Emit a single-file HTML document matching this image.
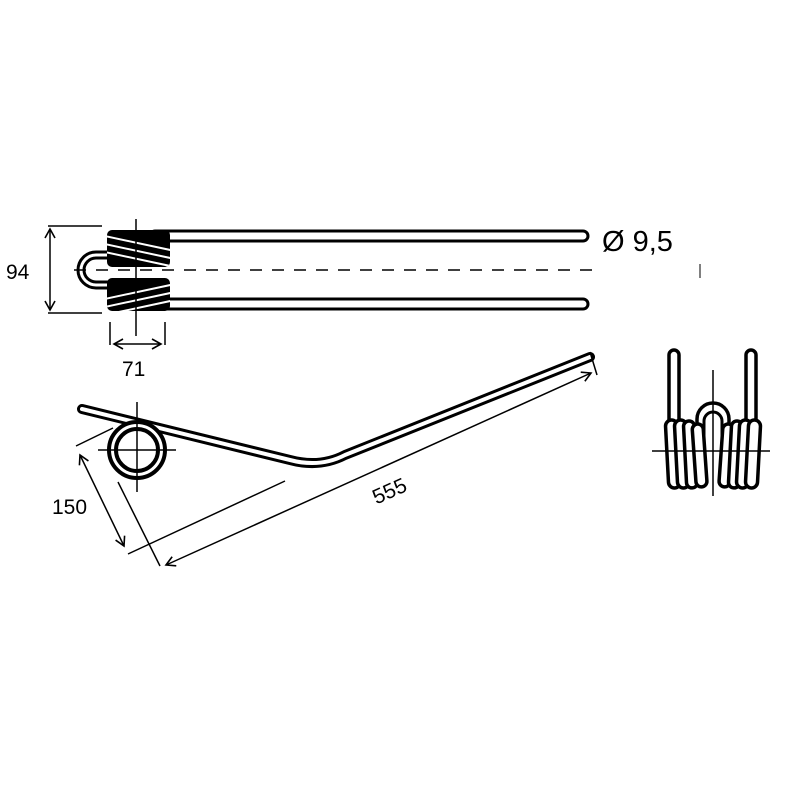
<!DOCTYPE html>
<html><head><style>body{margin:0;background:#fff}svg{display:block}</style></head><body>
<svg width="800" height="800" viewBox="0 0 800 800" xmlns="http://www.w3.org/2000/svg" font-family="Liberation Sans, sans-serif">
<defs>
<marker id="a" markerWidth="12" markerHeight="12" refX="10" refY="6" orient="auto-start-reverse" markerUnits="userSpaceOnUse"><path d="M1,1 L10,6 L1,11" fill="none" stroke="#000" stroke-width="1.6"/></marker>
<clipPath id="cu"><rect x="107" y="230" width="63" height="37" rx="5"/></clipPath>
<clipPath id="cl"><rect x="107" y="278" width="63" height="33" rx="5"/></clipPath>
</defs>
<rect width="800" height="800" fill="#fff"/>
<rect x="150" y="231" width="438" height="10" rx="5" fill="#fff" stroke="#000" stroke-width="3"/>
<rect x="150" y="299" width="438" height="10" rx="5" fill="#fff" stroke="#000" stroke-width="3"/>
<path d="M112,255 H96 A15,15 0 0 0 96,285 H112" fill="none" stroke="#000" stroke-width="9"/>
<path d="M112,255 H96 A15,15 0 0 0 96,285 H112" fill="none" stroke="#fff" stroke-width="3"/>
<rect x="107" y="230" width="63" height="37" rx="5" fill="#000"/>
<g clip-path="url(#cu)" stroke="#fff" stroke-width="2">
<line x1="100" y1="235" x2="175" y2="251"/><line x1="100" y1="243" x2="175" y2="259"/><line x1="100" y1="251" x2="175" y2="267"/>
</g>
<rect x="107" y="278" width="63" height="33" rx="5" fill="#000"/>
<g clip-path="url(#cl)" stroke="#fff" stroke-width="2">
<line x1="100" y1="300" x2="175" y2="284"/><line x1="100" y1="308" x2="175" y2="292"/><line x1="100" y1="316" x2="175" y2="300"/>
</g>
<line x1="74" y1="270" x2="592" y2="270" stroke="#000" stroke-width="1.5" stroke-dasharray="12,10"/>
<line x1="136" y1="219" x2="136" y2="336" stroke="#000" stroke-width="1.5"/>
<line x1="700" y1="264" x2="700" y2="278" stroke="#000" stroke-width="1"/>
<line x1="48" y1="226" x2="102" y2="226" stroke="#000" stroke-width="1.5"/>
<line x1="48" y1="313" x2="102" y2="313" stroke="#000" stroke-width="1.5"/>
<line x1="50" y1="229" x2="50" y2="310" stroke="#000" stroke-width="1.5" marker-start="url(#a)" marker-end="url(#a)"/>
<text x="6" y="279" font-size="21">94</text>
<line x1="110" y1="322" x2="110" y2="345" stroke="#000" stroke-width="1.5"/>
<line x1="165" y1="322" x2="165" y2="345" stroke="#000" stroke-width="1.5"/>
<line x1="114" y1="344" x2="161" y2="344" stroke="#000" stroke-width="1.5" marker-start="url(#a)" marker-end="url(#a)"/>
<text x="122" y="376" font-size="21">71</text>
<text x="602" y="251" font-size="29">Ø 9,5</text>
<path d="M82,409 L290,460 Q320,468 345,455 L590,357" fill="none" stroke="#000" stroke-width="10" stroke-linecap="round" stroke-linejoin="round"/>
<path d="M82,409 L290,460 Q320,468 345,455 L590,357" fill="none" stroke="#fff" stroke-width="4" stroke-linecap="round" stroke-linejoin="round"/>
<circle cx="137" cy="450" r="28" fill="#fff" stroke="#000" stroke-width="4"/>
<circle cx="137" cy="450" r="21" fill="#fff" stroke="#000" stroke-width="4"/>
<line x1="137" y1="402" x2="137" y2="492" stroke="#000" stroke-width="1.5"/>
<line x1="98" y1="450" x2="176" y2="450" stroke="#000" stroke-width="1.5"/>
<line x1="76" y1="446" x2="113" y2="428" stroke="#000" stroke-width="1.5"/>
<line x1="128" y1="554" x2="285" y2="481" stroke="#000" stroke-width="1.5"/>
<line x1="80" y1="455" x2="124" y2="546" stroke="#000" stroke-width="1.5" marker-start="url(#a)" marker-end="url(#a)"/>
<text x="52" y="514" font-size="21">150</text>
<line x1="118" y1="482" x2="160" y2="566" stroke="#000" stroke-width="1.5"/>
<line x1="590" y1="352" x2="597" y2="375" stroke="#000" stroke-width="1.5"/>
<line x1="166" y1="565" x2="591" y2="373" stroke="#000" stroke-width="1.5" marker-start="url(#a)" marker-end="url(#a)"/>
<text x="372" y="500" font-size="21" transform="rotate(-24 385 492)">555</text>
<g stroke="#000" stroke-width="3.5" fill="#fff">
<rect x="669" y="350" width="10" height="80" rx="5"/>
<rect x="746" y="350" width="10" height="80" rx="5"/>
<path d="M697,440 V419 A16,16 0 0 1 729,419 V440"/>
<path d="M704,440 V421 A9,9 0 0 1 722,421 V440" stroke-width="3"/>
<rect x="667" y="420" width="12" height="68" rx="6" transform="rotate(-3 673 454)"/>
<rect x="676" y="420" width="12" height="68" rx="6" transform="rotate(-3 682 454)"/>
<rect x="685" y="421" width="11" height="67" rx="5.5" transform="rotate(-3 690 454)"/>
<rect x="694" y="424" width="11" height="63" rx="5.5" transform="rotate(-4 699 454)"/>
<rect x="721" y="424" width="11" height="63" rx="5.5" transform="rotate(4 727 454)"/>
<rect x="730" y="421" width="11" height="67" rx="5.5" transform="rotate(3 736 454)"/>
<rect x="738" y="420" width="12" height="68" rx="6" transform="rotate(3 744 454)"/>
<rect x="747" y="420" width="12" height="68" rx="6" transform="rotate(3 753 454)"/>
</g>
<line x1="713" y1="370" x2="713" y2="496" stroke="#000" stroke-width="1.5"/>
<line x1="652" y1="451" x2="770" y2="451" stroke="#000" stroke-width="1.5"/>
</svg>
</body></html>
